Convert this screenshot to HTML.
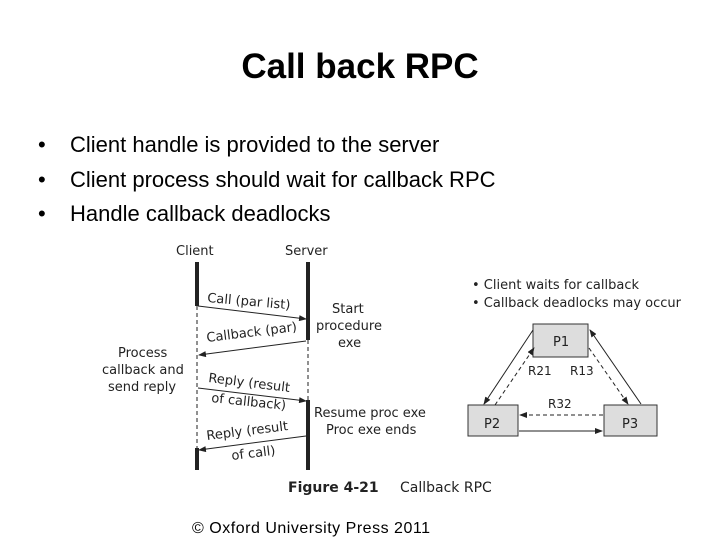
<!DOCTYPE html>
<html><head><style>
body{margin:0;width:720px;height:540px;background:#fff;overflow:hidden;font-family:"Liberation Sans",sans-serif;position:relative}
.t{position:absolute;left:0;width:720px;top:47px;text-align:center;font-size:35px;font-weight:bold}
.b{position:absolute;left:38px;font-size:22px;color:#000}
.b span{display:inline-block;width:32px}
</style></head><body>
<div class="t">Call back RPC</div>
<div class="b" style="top:132px"><span>•</span>Client handle is provided to the server</div>
<div class="b" style="top:167px"><span>•</span>Client process should wait for callback RPC</div>
<div class="b" style="top:201px"><span>•</span>Handle callback deadlocks</div>
<svg width="720" height="540" style="position:absolute;left:0;top:0" font-family="DejaVu Sans, sans-serif" font-size="13" fill="#222">
<defs><marker id="a" markerWidth="8" markerHeight="6" refX="7" refY="3" orient="auto"><path d="M0,0L8,3L0,6z" fill="#222"/></marker></defs>
<text x="176" y="255">Client</text><text x="285" y="255">Server</text>
<g stroke="#222">
<line x1="197" y1="262" x2="197" y2="306" stroke-width="4"/>
<line x1="197" y1="306" x2="197" y2="448" stroke-width="1" stroke-dasharray="4,3"/>
<line x1="197" y1="448" x2="197" y2="470" stroke-width="4"/>
<line x1="308" y1="262" x2="308" y2="340" stroke-width="4"/>
<line x1="308" y1="340" x2="308" y2="400" stroke-width="1" stroke-dasharray="4,3"/>
<line x1="308" y1="400" x2="308" y2="470" stroke-width="4"/>
<g stroke-width="1" marker-end="url(#a)">
<line x1="198" y1="306" x2="306" y2="319"/>
<line x1="306" y1="341" x2="199" y2="355"/>
<line x1="198" y1="388" x2="306" y2="401"/>
<line x1="306" y1="436" x2="199" y2="450"/>
</g></g>
<text x="207" y="302" transform="rotate(5 207 302)">Call (par list)</text>
<text x="207" y="342" transform="rotate(-7 207 342)">Callback (par)</text>
<text x="208" y="382" transform="rotate(7 208 382)">Reply (result</text>
<text x="211" y="402" transform="rotate(6 211 402)">of callback)</text>
<text x="207" y="440" transform="rotate(-7 207 440)">Reply (result</text>
<text x="232" y="460" transform="rotate(-7 232 460)">of call)</text>
<text x="332" y="313">Start</text><text x="316" y="330">procedure</text><text x="338" y="347">exe</text>
<text x="118" y="357">Process</text><text x="102" y="374">callback and</text><text x="108" y="391">send reply</text>
<text x="314" y="417">Resume proc exe</text><text x="326" y="434">Proc exe ends</text>
<text x="288" y="492" font-weight="bold" font-size="14">Figure 4-21</text><text x="400" y="492" font-size="14">Callback RPC</text>
<text x="472" y="289" font-size="13">• Client waits for callback</text>
<text x="472" y="307" font-size="13">• Callback deadlocks may occur</text>
<g fill="#ddd" stroke="#333"><rect x="533" y="324" width="55" height="33"/><rect x="468" y="405" width="50" height="31"/><rect x="604" y="405" width="53" height="31"/></g>
<text x="553" y="346">P1</text><text x="484" y="428">P2</text><text x="622" y="428">P3</text>
<text x="528" y="375" font-size="12">R21</text><text x="570" y="375" font-size="12">R13</text><text x="548" y="408" font-size="12">R32</text>
<g stroke="#222" stroke-width="1" marker-end="url(#a)">
<line x1="533" y1="330" x2="484" y2="404"/>
<line x1="641" y1="404" x2="590" y2="330"/>
<line x1="519" y1="431" x2="602" y2="431"/>
<g stroke-dasharray="4,3"><line x1="495" y1="405" x2="534" y2="348"/>
<line x1="589" y1="348" x2="628" y2="404"/>
<line x1="603" y1="415" x2="520" y2="415"/></g></g>
<text x="192" y="533" font-family="Liberation Sans, sans-serif" font-size="16" fill="#000" textLength="238">© Oxford University Press 2011</text>
</svg>
</body></html>
